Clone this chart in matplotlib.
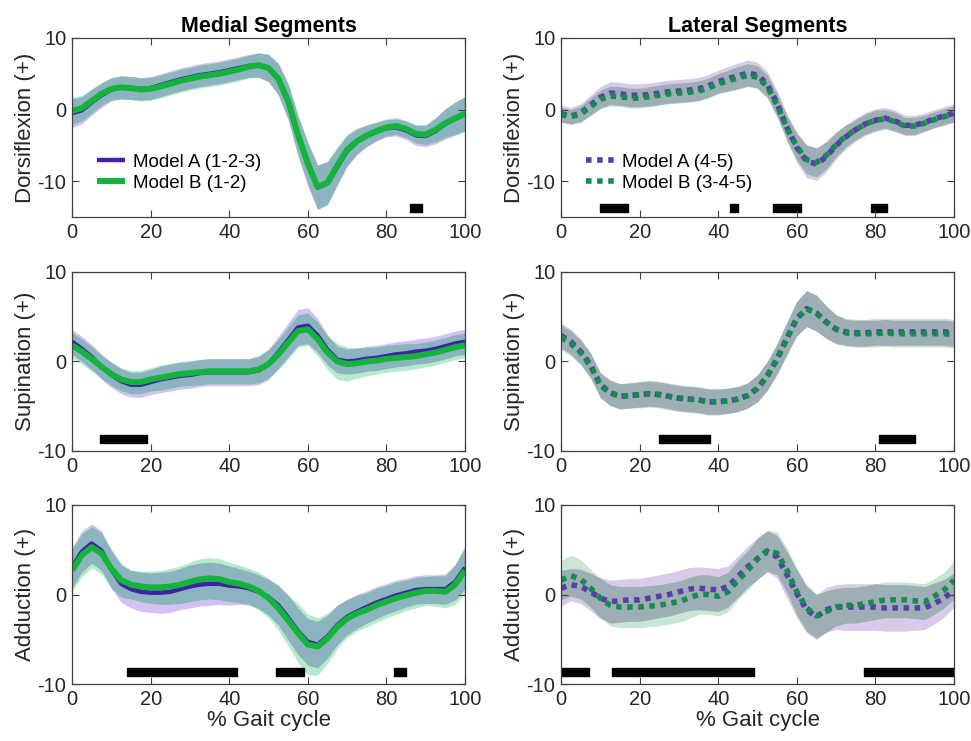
import numpy as np
import matplotlib
matplotlib.use('Agg')
import matplotlib.pyplot as plt

plt.rcParams['font.family'] = ['Liberation Sans', 'DejaVu Sans']
plt.rcParams['font.size'] = 14
plt.rcParams['axes.unicode_minus'] = False

# % gait cycle, sampled every 2.5 %
x = np.linspace(0, 100, 41)

# ---- Medial dorsiflexion
med_dor_A = [-0.5, -0.1, 1.0, 2.0, 2.8, 3.1, 3.0, 2.9, 3.0, 3.4, 3.8, 4.2, 4.5, 4.8, 5.0, 5.2, 5.5, 5.8, 6.1, 6.2,
             5.8, 4.2, 1.0, -3.7, -7.7, -10.9, -10.3, -8.0, -5.8, -4.5, -3.7, -3.1, -2.6, -2.5, -2.9, -3.6, -3.7,
             -3.0, -2.0, -1.3, -0.6]
med_dor_B = [-0.2, 0.2, 1.2, 2.2, 2.9, 3.1, 3.0, 2.8, 2.9, 3.2, 3.6, 4.0, 4.3, 4.6, 4.8, 5.0, 5.3, 5.6, 6.0, 6.2,
             5.8, 4.3, 1.2, -3.5, -7.5, -10.8, -10.2, -7.8, -5.6, -4.4, -3.6, -3.0, -2.5, -2.3, -2.7, -3.4, -3.5,
             -2.8, -1.9, -1.2, -0.6]
med_dor_sdA = [2.0, 1.9, 1.8, 1.7, 1.6, 1.6, 1.6, 1.6, 1.6, 1.6, 1.6, 1.6, 1.6, 1.6, 1.6, 1.6, 1.6, 1.6, 1.6, 1.7,
               1.9, 2.2, 2.5, 2.8, 3.0, 3.1, 3.0, 2.6, 2.2, 1.8, 1.5, 1.3, 1.2, 1.2, 1.3, 1.4, 1.5, 1.8, 2.1, 2.3,
               2.4]
med_dor_sdB = [1.9, 1.8, 1.7, 1.6, 1.6, 1.6, 1.6, 1.6, 1.6, 1.6, 1.6, 1.6, 1.6, 1.6, 1.6, 1.6, 1.6, 1.6, 1.6, 1.7,
               1.9, 2.2, 2.5, 2.8, 3.0, 3.1, 3.0, 2.6, 2.2, 1.8, 1.5, 1.3, 1.2, 1.2, 1.2, 1.3, 1.4, 1.7, 2.0, 2.3,
               2.4]
med_dor_sig = [(86, 89)]

# ---- Lateral dorsiflexion
lat_dor_A = [-0.6, -0.9, -0.5, 0.6, 1.7, 2.3, 2.2, 2.0, 2.0, 2.1, 2.3, 2.5, 2.6, 2.7, 2.9, 3.3, 3.9, 4.3, 4.7, 5.1,
             4.8, 3.5, 0.8, -2.5, -5.3, -7.2, -7.6, -6.6, -5.0, -3.8, -2.8, -2.0, -1.5, -1.2, -1.6, -2.2, -2.2,
             -1.8, -1.3, -0.9, -0.5]
lat_dor_B = [-0.7, -1.0, -0.6, 0.4, 1.4, 1.9, 1.8, 1.6, 1.6, 1.8, 2.0, 2.2, 2.3, 2.4, 2.6, 3.0, 3.6, 4.0, 4.4, 4.8,
             4.5, 3.2, 0.6, -2.6, -5.2, -7.0, -7.4, -6.4, -4.9, -3.7, -2.8, -2.0, -1.5, -1.3, -1.7, -2.3, -2.3,
             -1.9, -1.4, -1.0, -0.6]
lat_dor_sdA = [1.2, 1.2, 1.3, 1.4, 1.5, 1.6, 1.6, 1.6, 1.6, 1.6, 1.6, 1.6, 1.6, 1.6, 1.6, 1.6, 1.6, 1.7, 1.8, 1.8,
               1.8, 1.8, 1.8, 1.9, 2.1, 2.3, 2.3, 2.1, 1.9, 1.7, 1.6, 1.6, 1.6, 1.5, 1.5, 1.4, 1.4, 1.3, 1.3, 1.3,
               1.3]
lat_dor_sdB = [1.0, 1.0, 1.1, 1.2, 1.3, 1.4, 1.4, 1.4, 1.4, 1.4, 1.4, 1.4, 1.4, 1.4, 1.4, 1.4, 1.4, 1.5, 1.6, 1.6,
               1.6, 1.6, 1.6, 1.7, 1.9, 2.0, 2.0, 1.9, 1.7, 1.5, 1.4, 1.4, 1.4, 1.3, 1.3, 1.2, 1.2, 1.1, 1.1, 1.1,
               1.1]
lat_dor_sig = [(10, 17), (43, 45), (54, 61), (79, 83)]

# ---- Medial supination
med_sup_A = [2.2, 1.4, 0.5, -0.6, -1.5, -2.2, -2.6, -2.6, -2.3, -2.0, -1.8, -1.6, -1.5, -1.3, -1.2, -1.2, -1.2,
             -1.2, -1.2, -1.0, -0.3, 1.0, 2.4, 3.8, 4.0, 2.9, 1.3, 0.2, 0.0, 0.1, 0.3, 0.4, 0.6, 0.8, 0.9, 1.1, 1.2,
             1.4, 1.7, 2.0, 2.2]
med_sup_B = [1.8, 1.1, 0.3, -0.6, -1.4, -2.0, -2.3, -2.3, -2.0, -1.8, -1.6, -1.4, -1.3, -1.2, -1.1, -1.1, -1.1,
             -1.1, -1.1, -0.9, -0.3, 0.8, 2.1, 3.4, 3.6, 2.5, 1.0, 0.0, -0.3, -0.2, 0.0, 0.1, 0.3, 0.4, 0.5, 0.6,
             0.8, 1.0, 1.3, 1.6, 1.8]
med_sup_sdA = [1.4, 1.4, 1.4, 1.4, 1.4, 1.4, 1.4, 1.4, 1.4, 1.5, 1.5, 1.5, 1.5, 1.5, 1.5, 1.5, 1.5, 1.5, 1.5, 1.6,
               1.7, 1.8, 1.9, 2.0, 2.0, 1.9, 1.7, 1.5, 1.4, 1.4, 1.4, 1.4, 1.4, 1.4, 1.4, 1.4, 1.4, 1.4, 1.4, 1.4,
               1.4]
med_sup_sdB = [1.4, 1.4, 1.4, 1.3, 1.3, 1.3, 1.3, 1.3, 1.3, 1.4, 1.4, 1.4, 1.4, 1.4, 1.4, 1.4, 1.4, 1.4, 1.4, 1.5,
               1.6, 1.7, 1.8, 1.8, 1.8, 1.9, 1.9, 2.0, 1.9, 1.7, 1.6, 1.5, 1.5, 1.5, 1.5, 1.4, 1.4, 1.4, 1.4, 1.4,
               1.4]
med_sup_sig = [(7, 19)]

# ---- Lateral supination
lat_sup_A = [2.9, 2.2, 1.1, -0.4, -2.6, -3.5, -3.9, -3.8, -3.7, -3.6, -3.7, -3.9, -4.1, -4.2, -4.3, -4.5, -4.5,
             -4.4, -4.2, -3.8, -3.0, -1.6, 0.3, 2.6, 4.8, 5.9, 5.4, 4.4, 3.6, 3.3, 3.2, 3.2, 3.3, 3.3, 3.3, 3.3,
             3.3, 3.3, 3.3, 3.3, 3.2]
lat_sup_B = [2.7, 2.0, 1.0, -0.5, -2.7, -3.5, -3.9, -3.8, -3.7, -3.6, -3.7, -3.9, -4.1, -4.2, -4.3, -4.5, -4.5,
             -4.4, -4.2, -3.8, -3.0, -1.6, 0.3, 2.6, 4.8, 5.9, 5.4, 4.4, 3.6, 3.2, 3.1, 3.1, 3.1, 3.2, 3.1, 3.1,
             3.1, 3.1, 3.1, 3.1, 3.0]
lat_sup_sdA = [1.4, 1.4, 1.4, 1.4, 1.4, 1.4, 1.4, 1.4, 1.4, 1.4, 1.4, 1.4, 1.4, 1.4, 1.4, 1.4, 1.4, 1.4, 1.4, 1.4,
               1.5, 1.6, 1.7, 1.8, 1.9, 2.0, 2.0, 1.8, 1.6, 1.5, 1.5, 1.5, 1.5, 1.5, 1.5, 1.5, 1.5, 1.5, 1.5, 1.5,
               1.5]
lat_sup_sdB = [1.4, 1.4, 1.4, 1.4, 1.4, 1.4, 1.4, 1.4, 1.5, 1.5, 1.5, 1.5, 1.5, 1.5, 1.5, 1.5, 1.5, 1.4, 1.4, 1.4,
               1.5, 1.6, 1.7, 1.8, 1.9, 2.0, 2.0, 1.8, 1.6, 1.5, 1.5, 1.5, 1.5, 1.5, 1.5, 1.5, 1.5, 1.5, 1.5, 1.5,
               1.5]
lat_sup_sig = [(25, 38), (81, 90)]

# ---- Medial adduction
med_add_A = [3.0, 4.8, 5.7, 4.9, 2.8, 1.2, 0.6, 0.3, 0.2, 0.2, 0.3, 0.6, 0.9, 1.1, 1.2, 1.2, 1.0, 0.9, 0.7, 0.3,
             -0.3, -1.2, -2.6, -4.1, -5.3, -5.6, -4.7, -3.4, -2.5, -1.9, -1.4, -0.9, -0.5, -0.1, 0.2, 0.5, 0.6, 0.6,
             0.6, 1.4, 3.0]
med_add_B = [2.7, 4.4, 5.3, 4.6, 2.9, 1.6, 1.1, 0.9, 0.8, 0.8, 0.9, 1.1, 1.4, 1.7, 1.8, 1.7, 1.4, 1.2, 0.9, 0.4,
             -0.4, -1.5, -2.9, -4.3, -5.6, -5.8, -4.9, -3.6, -2.7, -2.1, -1.7, -1.2, -0.8, -0.4, -0.1, 0.2, 0.4, 0.4,
             0.3, 1.1, 2.7]
med_add_sdA = [2.3, 2.3, 2.2, 2.2, 2.1, 2.1, 2.1, 2.2, 2.2, 2.3, 2.3, 2.3, 2.4, 2.4, 2.4, 2.3, 2.2, 2.0, 1.9, 1.9,
               2.0, 2.2, 2.5, 2.6, 2.6, 2.6, 2.4, 2.2, 2.0, 1.9, 1.8, 1.8, 1.7, 1.7, 1.6, 1.6, 1.6, 1.6, 1.7, 2.0,
               2.4]
med_add_sdB = [2.4, 2.4, 2.3, 2.3, 2.2, 1.9, 1.6, 1.7, 1.8, 1.9, 2.0, 2.1, 2.2, 2.3, 2.3, 2.3, 2.2, 2.1, 2.0, 2.1,
               2.2, 2.5, 2.8, 3.3, 3.4, 3.2, 2.8, 2.4, 2.1, 2.0, 1.9, 1.9, 1.8, 1.8, 1.7, 1.7, 1.6, 1.7, 1.8, 2.2,
               2.6]
med_add_sig = [(14, 42), (52, 59), (82, 85)]

# ---- Lateral adduction
lat_add_A = [0.7, 1.1, 0.9, 0.3, -0.4, -0.8, -0.7, -0.6, -0.6, -0.4, -0.2, 0.0, 0.3, 0.6, 0.7, 0.6, 0.5, 0.9, 2.0,
             3.1, 4.0, 4.8, 4.2, 2.2, 0.1, -1.7, -2.5, -1.7, -1.4, -1.4, -1.4, -1.4, -1.4, -1.5, -1.5, -1.5, -1.5,
             -1.5, -1.0, -0.4, 0.5]
lat_add_B = [1.6, 2.1, 1.7, 0.7, -0.4, -1.2, -1.4, -1.4, -1.4, -1.3, -1.2, -1.0, -0.8, -0.4, 0.0, 0.0, -0.2, 0.3,
             1.6, 2.7, 4.0, 4.9, 4.6, 2.7, 0.3, -1.5, -2.4, -1.9, -1.4, -1.2, -1.2, -1.0, -0.8, -0.6, -0.6, -0.6,
             -0.7, -0.8, -0.2, 0.5, 1.6]
lat_add_sdA = [2.0, 1.8, 1.9, 2.1, 2.3, 2.4, 2.4, 2.4, 2.4, 2.4, 2.4, 2.4, 2.4, 2.4, 2.4, 2.4, 2.4, 2.3, 2.3, 2.3,
               2.3, 2.3, 2.4, 2.6, 2.7, 2.6, 2.5, 2.5, 2.5, 2.6, 2.6, 2.6, 2.6, 2.6, 2.6, 2.6, 2.5, 2.4, 2.3, 2.1,
               1.9]
lat_add_sdB = [2.2, 2.3, 2.2, 2.1, 2.2, 2.3, 2.3, 2.3, 2.3, 2.3, 2.3, 2.3, 2.3, 2.3, 2.2, 2.2, 2.2, 2.2, 2.2, 2.2,
               2.3, 2.3, 2.4, 2.5, 2.6, 2.6, 2.5, 2.3, 2.1, 2.0, 2.0, 2.0, 2.0, 2.0, 2.0, 2.0, 2.0, 2.0, 2.0, 2.0,
               2.1]
lat_add_sig = [(0, 7), (13, 49), (77, 100)]

row_labels = ['Dorsiflexion (+)', 'Supination (+)', 'Adduction (+)']
col_titles = ['Medial Segments', 'Lateral Segments']
legend_left = ['Model A (1-2-3)', 'Model B (1-2)']
legend_right = ['Model A (4-5)', 'Model B (3-4-5)']

panels = [
    [(med_dor_A, med_dor_sdA, med_dor_B, med_dor_sdB, med_dor_sig),
     (lat_dor_A, lat_dor_sdA, lat_dor_B, lat_dor_sdB, lat_dor_sig)],
    [(med_sup_A, med_sup_sdA, med_sup_B, med_sup_sdB, med_sup_sig),
     (lat_sup_A, lat_sup_sdA, lat_sup_B, lat_sup_sdB, lat_sup_sig)],
    [(med_add_A, med_add_sdA, med_add_B, med_add_sdB, med_add_sig),
     (lat_add_A, lat_add_sdA, lat_add_B, lat_add_sdB, lat_add_sig)],
]

# colours: (line A, line B, band A, band B, band overlap)
col_med = ('#4020A8', '#14B43C', '#D4C0F2', '#B6EBCA', '#8CB4BF')
col_lat = ('#5A3CAA', '#148C50', '#D9CAEC', '#C8E6D2', '#9DAFB4')

fig = plt.figure(figsize=(9.71, 7.41), dpi=100)
lefts = [0.0742, 0.5778]
bottoms = [0.7072, 0.3914, 0.0769]
w, h = 0.4047, 0.2416

for r in range(3):
    for c in range(2):
        ax = fig.add_axes([lefts[c], bottoms[r], w, h])
        mA, sA, mB, sB, sig = panels[r][c]
        mA, sA, mB, sB = map(np.array, (mA, sA, mB, sB))
        cols = col_med if c == 0 else col_lat
        loA, hiA = mA - sA, mA + sA
        loB, hiB = mB - sB, mB + sB
        ax.fill_between(x, loA, hiA, color=cols[2], lw=0)
        ax.fill_between(x, loB, hiB, color=cols[3], lw=0)
        lo = np.maximum(loA, loB)
        hi = np.minimum(hiA, hiB)
        ax.fill_between(x, lo, hi, where=hi > lo, interpolate=True, color=cols[4], lw=0)

        if c == 0:
            ax.plot(x, mA, color=cols[0], lw=3.2, solid_capstyle='butt')
            ax.plot(x, mB, color=cols[1], lw=4.3, solid_capstyle='butt')
            labs = legend_left
        else:
            ax.plot(x, mA, color=cols[0], lw=4, linestyle=(0, (1, 1)), dash_capstyle='butt')
            ax.plot(x, mB, color=cols[1], lw=4, linestyle=(0, (1, 1)), dash_capstyle='butt')
            labs = legend_right

        if r == 0:
            ax.set_ylim(-15, 10)
            bar_y, bar_h = -13.7, 1.1
        else:
            ax.set_ylim(-10, 10)
            bar_y, bar_h = -8.7, 0.9
        ax.broken_barh([(s, e - s) for s, e in sig], (bar_y - bar_h / 2, bar_h), color='black')

        ax.set_xlim(0, 100)
        ax.set_yticks([-10, 0, 10])
        ax.set_xticks([0, 20, 40, 60, 80, 100])
        ax.tick_params(direction='in', top=True, right=True, length=5, width=0.8,
                       color='#404040', labelsize=14.5, labelcolor='#262626', pad=4)
        for sp in ax.spines.values():
            sp.set_color('#404040')
            sp.set_linewidth(0.9)
        ax.set_ylabel(row_labels[r], fontsize=16, color='#262626', labelpad=1)
        if r == 0:
            ax.set_title(col_titles[c], fontsize=15.5, fontweight='bold', pad=4)
            ax.legend(ax.lines, labs, loc='lower left', bbox_to_anchor=(0.045, 0.1), frameon=False,
                      fontsize=13.5, handlelength=1.5, handletextpad=0.4, labelspacing=0.2,
                      borderaxespad=0)
        if r == 2:
            ax.set_xlabel('% Gait cycle', fontsize=16, color='#262626', labelpad=1)

fig.savefig('out.png', dpi=100)
